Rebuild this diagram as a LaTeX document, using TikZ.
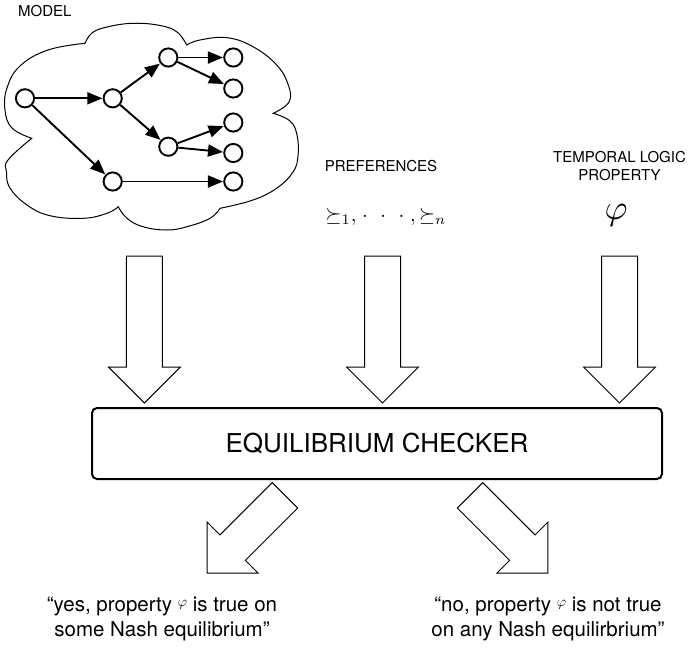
\documentclass[tikz,border=0pt]{standalone}
\usepackage{graphicx}
\usepackage[no-math]{fontspec}
\setmainfont{TeX Gyre Heros}
\usetikzlibrary{arrows.meta}
\newcommand{\fatarrow}[3]{%
  \draw[fatshape, shift={#1}, rotate=#2] (0,-18) -- ({#3-36},-18) -- ({#3-36},-36) -- (#3,0) -- ({#3-36},36) -- ({#3-36},18) -- (0,18) -- cycle;}
\newcommand{\smallphi}{\raisebox{5.6pt}{\fontsize{15}{18}\selectfont$\varphi$}}
\begin{document}
\begin{tikzpicture}[x=1pt,y=-1pt,
  state/.style={circle, draw, line width=1.9pt, minimum size=18.2pt, inner sep=0pt},
  edge/.style={line width=1.9pt, -{Triangle[length=15pt,width=12pt]}, shorten >=0.3pt},
  fatshape/.style={draw, line width=1pt, fill=white, line join=miter},
  cloudline/.style={line width=1pt},
  lbl/.style={font=\fontsize{15}{18}\selectfont, inner sep=0pt},
  outtxt/.style={font=\fontsize{20.5}{24}\selectfont, inner sep=0pt, anchor=base},
  checker/.style={draw, line width=2pt, rounded corners=5pt, minimum width=570pt, minimum height=71pt, font=\fontsize{26}{30}\selectfont}
]
\useasboundingbox (0,0) rectangle (699,654);

% cloud
\draw[cloudline]
  plot[smooth, tension=0.7] coordinates {(31.7,138.3) (12,128) (5,110) (7,88) (20,66) (48,50) (85,43.3)}
  -- plot[smooth, tension=0.7] coordinates {(85,43.3) (92,33) (107,27) (133,23.3) (160,25.5) (177,32) (186.7,45)}
  -- plot[smooth, tension=0.7] coordinates {(186.7,45) (200,40) (227,37.7) (253,46.7) (276.7,65) (288.3,85) (289,102) (273.3,113.3)}
  -- plot[smooth, tension=0.7] coordinates {(273.3,113.3) (290,121) (297,135) (298,156) (293,172) (277,188) (253,200) (220,208.3)}
  -- plot[smooth, tension=0.7] coordinates {(220,208.3) (210,218.3) (187,226.7) (166.7,230) (143,226.7) (127,218.3) (118.3,206.7)}
  -- plot[smooth, tension=0.7] coordinates {(118.3,206.7) (107,213.3) (83.3,218.3) (50,215.7) (27,205) (10,188) (6.5,172) (8,160) (31.7,138.3)}
  -- cycle;

\node[lbl, anchor=base west] (model) at (18,16) {MODEL};

% graph
\node[state] (n0) at (25,98.3) {};
\node[state] (n1) at (112.7,98.3) {};
\node[state] (n2) at (168.3,57.5) {};
\node[state] (n3) at (168.3,146.7) {};
\node[state] (n4) at (112.7,181.5) {};
\node[state] (l0) at (233.3,57.5) {};
\node[state] (l1) at (233.3,88.5) {};
\node[state] (l2) at (233.3,122.5) {};
\node[state] (l3) at (233.3,153) {};
\node[state] (l4) at (233.3,181.5) {};
\draw[edge] (n0) -- (n1);
\draw[edge] (n0) -- (n4);
\draw[edge] (n1) -- (n2);
\draw[edge] (n1) -- (n3);
\draw[edge] (n2) -- (l0);
\draw[edge] (n2) -- (l1);
\draw[edge] (n3) -- (l2);
\draw[edge] (n3) -- (l3);
\draw[edge] (n4) -- (l4);

% inputs
\node[lbl, anchor=base] (pref) at (381,171) {PREFERENCES};
\node[inner sep=0pt, anchor=base] (prefmath) at (386,221)
  {\scalebox{2.05}{$\succeq_1,\mskip2mu{\cdot}\mskip11mu{\cdot}\mskip11mu{\cdot}\mskip5mu,\succeq_n$}};
\node[lbl, anchor=base] (temp1) at (619.5,162.7) {TEMPORAL LOGIC};
\node[lbl, anchor=base] (temp2) at (619.5,180.7) {PROPERTY};
\node[inner sep=0pt, anchor=base] (phi) at (616,219) {\scalebox{3.5}{$\varphi$}};

% checker
\node[checker] (chk) at (377,443.5) {EQUILIBRIUM CHECKER};

% fat arrows
\coordinate (in1) at (144.4,256);
\coordinate (in2) at (382.5,256);
\coordinate (in3) at (619.5,256);
\fatarrow{(in1)}{-90}{147}
\fatarrow{(in2)}{-90}{147}
\fatarrow{(in3)}{-90}{147}
\coordinate (out1) at (285,495.3);
\coordinate (out2) at (470,495.3);
\fatarrow{(out1)}{-135}{110}
\fatarrow{(out2)}{-45}{110}

% outputs
\node[outtxt] (yes1) at (162,611.7) {“yes, property \smallphi{} is true on};
\node[outtxt] (yes2) at (162,636.7) {some Nash equilibrium”};
\node[outtxt] (no1) at (548,611.7) {“no, property \smallphi{} is not true};
\node[outtxt] (no2) at (548,636.7) {on any Nash equilirbrium”};
\end{tikzpicture}
\end{document}
